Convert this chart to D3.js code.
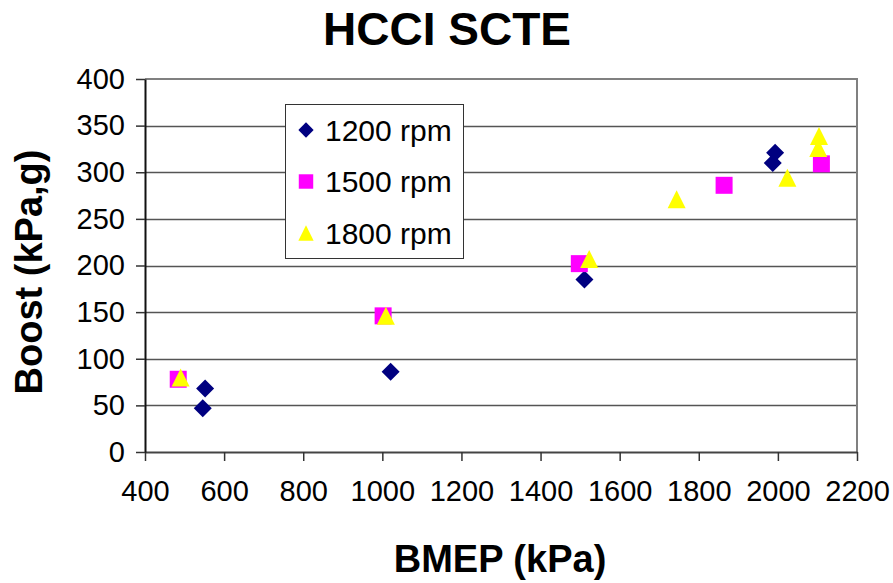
<!DOCTYPE html>
<html>
<head>
<meta charset="utf-8">
<script src="https://cdn.jsdelivr.net/npm/d3@7/dist/d3.min.js"></script>
<style>
  html, body { margin: 0; padding: 0; background: #fff; }
  svg { display: block; font-family: "Liberation Sans", Arial, sans-serif; }
</style>
</head>
<body>
<div id="viz"></div>
<script>
(function() {

// Series values: [BMEP (kPa), Boost (kPa,g)]
let rpm1200 = [[546, 47], [552, 68], [1021, 86], [1511, 185], [1987, 310], [1993, 321]];
let rpm1500 = [[484, 78], [1002, 146], [1498, 202], [1864, 286], [2110, 309]];
let rpm1800 = [[490, 80], [1009, 146], [1523, 207], [1744, 271], [2024, 294], [2102, 326], [2104, 339]];

let seriesNames = ["1200 rpm", "1500 rpm", "1800 rpm"];
let xTicks = [400, 600, 800, 1000, 1200, 1400, 1600, 1800, 2000, 2200];
let yTicks = [0, 50, 100, 150, 200, 250, 300, 350, 400];

let canvasWidth = 893;
let canvasHeight = 583;
let plotLeft = 145;
let plotRight = 857;
let plotTop = 79;
let plotBottom = 452;

let svg = d3.select("#viz").append("svg")
  .attr("width", canvasWidth)
  .attr("height", canvasHeight);

let xScale = d3.scaleLinear().domain([400, 2200]).range([plotLeft, plotRight]);
let yScale = d3.scaleLinear().domain([0, 400]).range([plotBottom, plotTop]);

// Gridlines
svg.append("g")
  .selectAll("line")
  .data(yTicks.filter((d) => d > 0 && d < 400))
  .enter().append("line")
    .attr("x1", plotLeft)
    .attr("x2", plotRight)
    .attr("y1", (d) => Math.round(yScale(d)) + 0.5)
    .attr("y2", (d) => Math.round(yScale(d)) + 0.5)
    .attr("stroke", "#555")
    .attr("stroke-width", 1.3);

// Plot border (top and right)
svg.append("path")
  .attr("d", d3.line()([[plotLeft, plotTop], [plotRight, plotTop], [plotRight, plotBottom]]))
  .attr("fill", "none")
  .attr("stroke", "#808080")
  .attr("stroke-width", 2);

// Axes
let xAxis = svg.append("g")
  .attr("transform", "translate(0," + plotBottom + ")")
  .call(d3.axisBottom(xScale).tickValues(xTicks).tickFormat(d3.format("d"))
    .tickSizeInner(9).tickSizeOuter(0).tickPadding(19));
let yAxis = svg.append("g")
  .attr("transform", "translate(" + plotLeft + ",0)")
  .call(d3.axisLeft(yScale).tickValues(yTicks).tickFormat(d3.format("d"))
    .tickSizeInner(9).tickSizeOuter(0).tickPadding(11));

xAxis.select(".domain").attr("stroke", "#444").attr("stroke-width", 2);
yAxis.select(".domain").attr("stroke", "#111").attr("stroke-width", 2);
xAxis.selectAll(".tick line").attr("stroke", "#333").attr("stroke-width", 1.5);
yAxis.selectAll(".tick line").attr("stroke", "#333").attr("stroke-width", 1.5);
svg.selectAll(".tick text")
  .attr("font-family", "Liberation Sans, Arial, sans-serif")
  .attr("font-size", 29)
  .attr("fill", "#000");
xAxis.selectAll(".tick text").attr("dy", "0.71em");

// Marker shapes, centred on their bounding box like the spreadsheet markers
function diamond(x, y) {
  let r = 9;
  return "M" + x + "," + (y - r) + "L" + (x + r) + "," + y + "L" + x + "," + (y + r) + "L" + (x - r) + "," + y + "Z";
}
function square(x, y) {
  let r = 8.5;
  return "M" + (x - r) + "," + (y - r) + "h" + (2 * r) + "v" + (2 * r) + "h" + (-2 * r) + "Z";
}
function triangle(x, y) {
  let r = 9;
  return "M" + x + "," + (y - r) + "L" + (x + r) + "," + (y + r) + "L" + (x - r) + "," + (y + r) + "Z";
}

let series = [
  { data: rpm1200, shape: diamond, color: "#000080" },
  { data: rpm1500, shape: square, color: "#ff00ff" },
  { data: rpm1800, shape: triangle, color: "#ffff00" }
];

let marks = svg.append("g");
series.forEach((s) => {
  marks.append("g")
    .selectAll("path")
    .data(s.data)
    .enter().append("path")
      .attr("d", (d) => s.shape(xScale(d[0]), yScale(d[1])))
      .attr("fill", s.color);
});

// Legend
let legend = svg.append("g");
legend.append("rect")
  .attr("x", 285.5)
  .attr("y", 104.5)
  .attr("width", 178)
  .attr("height", 154)
  .attr("fill", "#fff")
  .attr("stroke", "#333")
  .attr("stroke-width", 1);
series.forEach((s, i) => {
  let cy = 130 + i * 51.5;
  legend.append("path")
    .attr("d", s.shape(306, cy))
    .attr("fill", s.color)
    .attr("transform", "translate(306," + cy + ") scale(0.85) translate(-306," + (-cy) + ")");
  legend.append("text")
    .attr("x", 325)
    .attr("y", cy + 10.5)
    .attr("font-size", 30)
    .text(seriesNames[i]);
});

// Titles
svg.append("text")
  .attr("x", 447)
  .attr("y", 45)
  .attr("text-anchor", "middle")
  .attr("font-size", 46)
  .attr("font-weight", "bold")
  .text("HCCI SCTE");

svg.append("text")
  .attr("x", 500)
  .attr("y", 572)
  .attr("text-anchor", "middle")
  .attr("font-size", 38)
  .attr("font-weight", "bold")
  .text("BMEP (kPa)");

svg.append("text")
  .attr("transform", "translate(42,272) rotate(-90)")
  .attr("text-anchor", "middle")
  .attr("font-size", 38)
  .attr("font-weight", "bold")
  .text("Boost (kPa,g)");

})();
</script>
</body>
</html>
